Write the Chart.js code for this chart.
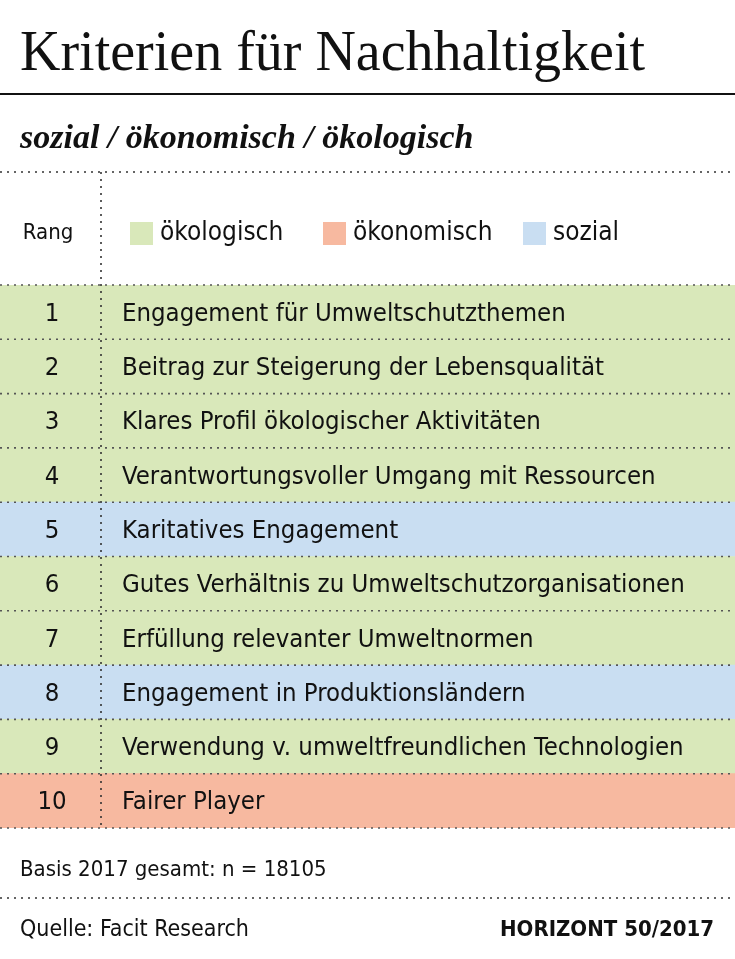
<!DOCTYPE html>
<html><head><meta charset="utf-8">
<script src="https://cdn.jsdelivr.net/npm/chart.js@4"></script>
<style>body{margin:0;background:#fff}#c{display:block}</style>
</head><body>
<div style="width:735px;height:959px"><canvas id="c"></canvas></div>
<script>
var ranks = ['1','2','3','4','5','6','7','8','9','10'];
var criteria = ['Engagement für Umweltschutzthemen','Beitrag zur Steigerung der Lebensqualität','Klares Profil ökologischer Aktivitäten','Verantwortungsvoller Umgang mit Ressourcen','Karitatives Engagement','Gutes Verhältnis zu Umweltschutzorganisationen','Erfüllung relevanter Umweltnormen','Engagement in Produktionsländern','Verwendung v. umweltfreundlichen Technologien','Fairer Player'];
var groups = ['ökologisch','ökologisch','ökologisch','ökologisch','sozial','ökologisch','ökologisch','sozial','ökologisch','ökonomisch'];
var legendLabels = ['ökologisch','ökonomisch','sozial'];
var groupColors = {'ökologisch':'#d9e8ba','ökonomisch':'#f7b9a0','sozial':'#c9def2'};

var SANS = '"Liberation Sans Narrow","DejaVu Sans Condensed","Roboto",sans-serif';
var SERIF = '"Liberation Serif","DejaVu Serif",serif';

function dotted(ctx, x1, y1, x2, y2, color) {
  ctx.save();
  ctx.strokeStyle = color; ctx.lineWidth = 1.6; ctx.setLineDash([2, 5]);
  ctx.beginPath(); ctx.moveTo(x1, y1); ctx.lineTo(x2, y2); ctx.stroke();
  ctx.restore();
}

var decor = {
  id: 'decor',
  afterDatasetsDraw: function(chart) {
    var ctx = chart.ctx, ys = chart.scales.y, a = chart.chartArea;
    ctx.save();
    ctx.fillStyle = '#111';
    ctx.font = '56px ' + SERIF; ctx.textBaseline = 'alphabetic'; ctx.textAlign = 'left';
    ctx.fillText('Kriterien für Nachhaltigkeit', 20, 70);
    ctx.fillRect(0, 93, 735, 2);
    ctx.font = 'italic bold 34px ' + SERIF;
    ctx.fillText('sozial / ökonomisch / ökologisch', 20, 148);
    dotted(ctx, 0, 172, 735, 172, '#333');
    // legend
    ctx.textBaseline = 'middle';
    ctx.font = '22px ' + SANS;
    ctx.textAlign = 'center'; ctx.fillText('Rang', 48, 233);
    ctx.textAlign = 'left';
    var lx = [130, 323, 523];
    legendLabels.forEach(function(l, i) {
      ctx.fillStyle = groupColors[l]; ctx.fillRect(lx[i], 222, 23, 23);
      ctx.fillStyle = '#111'; ctx.font = '26px ' + SANS;
      ctx.fillText(l, lx[i] + 30, 233);
    });
    // rows
    var h = (a.bottom - a.top) / ranks.length;
    ctx.font = '25.5px ' + SANS;
    ranks.forEach(function(r, i) {
      var y = ys.getPixelForValue(i);
      ctx.textAlign = 'center'; ctx.fillText(r, 52, y + 2);
      ctx.textAlign = 'left'; ctx.fillText(criteria[i], 122, y + 2);
      dotted(ctx, 0, y - h / 2, 735, y - h / 2, '#555');
    });
    dotted(ctx, 0, a.bottom, 735, a.bottom, '#555');
    dotted(ctx, 101, 172, 101, a.bottom, '#333');
    ctx.font = '22px ' + SANS; ctx.textAlign = 'left';
    ctx.fillText('Basis 2017 gesamt: n = 18105', 20, 870);
    dotted(ctx, 0, 898, 735, 898, '#333');
    ctx.font = '23px ' + SANS;
    ctx.fillText('Quelle: Facit Research', 20, 930);
    ctx.font = 'bold 22px ' + SANS; ctx.textAlign = 'right';
    ctx.fillText('HORIZONT 50/2017', 714, 930);
    ctx.restore();
  }
};

new Chart(document.getElementById('c'), {
  type: 'bar',
  data: {
    labels: ranks,
    datasets: [{
      data: ranks.map(function() { return 1; }),
      backgroundColor: groups.map(function(g) { return groupColors[g]; }),
      categoryPercentage: 1, barPercentage: 1, borderWidth: 0
    }]
  },
  options: {
    indexAxis: 'y', responsive: true, maintainAspectRatio: false, animation: false,
    layout: { padding: { top: 285, bottom: 131, left: 0, right: 0 } },
    plugins: { legend: { display: false }, tooltip: { enabled: false } },
    scales: {
      x: { display: false, min: 0, max: 1 },
      y: { display: false }
    }
  },
  plugins: [decor]
});
</script>
</body></html>
